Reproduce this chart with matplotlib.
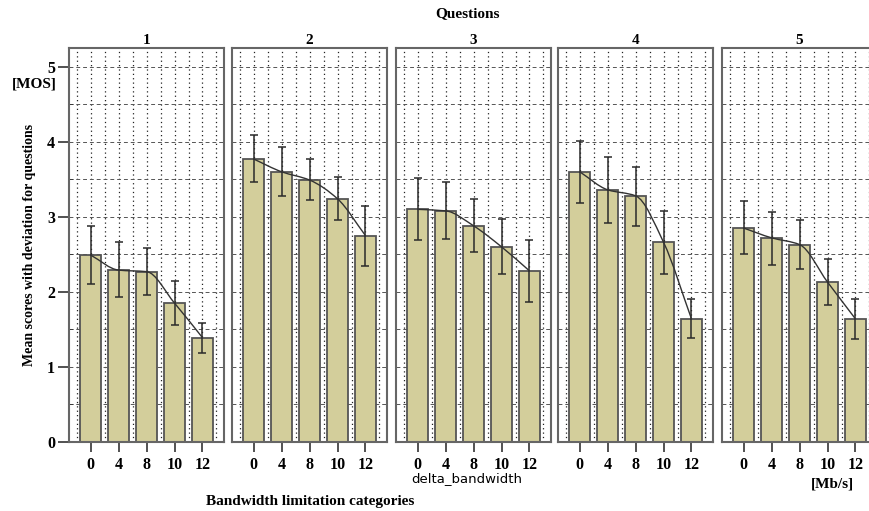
"""
Mean MOS scores per question for the bandwidth limitation categories
"""
import matplotlib
matplotlib.use('Agg')
import matplotlib.pyplot as plt
from matplotlib.path import Path
from matplotlib.patches import PathPatch
from matplotlib.ticker import MultipleLocator
import numpy as np

# data
questions = ['1', '2', '3', '4', '5']
bandwidth_labels = ['0', '4', '8', '10', '12']

q1_mean = [2.49, 2.29, 2.27, 1.85, 1.39]
q1_low = [2.11, 1.93, 1.96, 1.56, 1.19]
q1_high = [2.88, 2.67, 2.58, 2.15, 1.59]

q2_mean = [3.77, 3.60, 3.49, 3.24, 2.75]
q2_low = [3.46, 3.28, 3.22, 2.96, 2.35]
q2_high = [4.09, 3.93, 3.77, 3.53, 3.15]

q3_mean = [3.10, 3.08, 2.88, 2.60, 2.28]
q3_low = [2.69, 2.70, 2.53, 2.24, 1.86]
q3_high = [3.52, 3.46, 3.24, 2.97, 2.69]

q4_mean = [3.60, 3.36, 3.28, 2.66, 1.64]
q4_low = [3.19, 2.92, 2.88, 2.24, 1.38]
q4_high = [4.01, 3.80, 3.66, 3.08, 1.90]

q5_mean = [2.85, 2.72, 2.63, 2.13, 1.64]
q5_low = [2.50, 2.36, 2.31, 1.83, 1.37]
q5_high = [3.21, 3.07, 2.96, 2.44, 1.91]

means = [q1_mean, q2_mean, q3_mean, q4_mean, q5_mean]
lows = [q1_low, q2_low, q3_low, q4_low, q5_low]
highs = [q1_high, q2_high, q3_high, q4_high, q5_high]

BAR_COLOR = '#d3ce9b'
SERIF = 'Liberation Serif'

W, H = 869, 511
panel_left = [69, 232, 396, 558, 722]
panel_width = 155
panel_top, panel_bottom = 48, 442


def smooth_path(x, y):
    """Monotone cubic (Fritsch-Carlson) through the points, as bezier path"""
    x = np.asarray(x, float)
    y = np.asarray(y, float)
    h = np.diff(x)
    d = np.diff(y) / h
    m = np.zeros_like(y)
    m[0], m[-1] = d[0], d[-1]
    for i in range(1, len(y) - 1):
        if d[i - 1] * d[i] <= 0:
            m[i] = 0
        else:
            w1 = 2 * h[i] + h[i - 1]
            w2 = h[i] + 2 * h[i - 1]
            m[i] = (w1 + w2) / (w1 / d[i - 1] + w2 / d[i])
    verts = [(x[0], y[0])]
    codes = [Path.MOVETO]
    for i in range(len(h)):
        verts += [(x[i] + h[i] / 3, y[i] + m[i] * h[i] / 3),
                  (x[i + 1] - h[i] / 3, y[i + 1] - m[i + 1] * h[i] / 3),
                  (x[i + 1], y[i + 1])]
        codes += [Path.CURVE4] * 3
    return Path(verts, codes)


fig = plt.figure(figsize=(W / 100, H / 100), dpi=100)
xpos = np.arange(len(bandwidth_labels))

for k, q in enumerate(questions):
    ax = fig.add_axes([panel_left[k] / W, 1 - panel_bottom / H,
                       panel_width / W, (panel_bottom - panel_top) / H])
    ax.set_xlim(-0.78, 4.77)
    ax.set_ylim(0, 5.25)

    # grid
    for gx in np.arange(-0.5, 5.0, 0.5):
        ax.axvline(gx, color='#222222', lw=0.9, ls=(0, (1, 2.5)), zorder=0)
    for gy in np.arange(0.5, 5.5, 0.5):
        ax.axhline(gy, color='#555555', lw=0.7, ls=(0, (4, 3)), zorder=0)

    m = np.array(means[k])
    err = [m - np.array(lows[k]), np.array(highs[k]) - m]
    ax.bar(xpos, m, width=0.75, color=BAR_COLOR, edgecolor='#555555',
           linewidth=1.3, zorder=2)
    ax.errorbar(xpos, m, yerr=err, fmt='none', ecolor='#2a2a2a',
                elinewidth=1.1, capsize=3, capthick=1.1, zorder=3)
    ax.add_patch(PathPatch(smooth_path(xpos, m), facecolor='none',
                           edgecolor='#333333', lw=1.0, zorder=4))

    for s in ax.spines.values():
        s.set_color('#666666')
        s.set_linewidth(1.5)

    ax.set_xticks(xpos)
    ax.set_xticklabels(bandwidth_labels, fontfamily=SERIF,
                       fontweight='bold', fontsize=11.5)
    ax.tick_params(axis='x', length=7, width=1.2, color='#333333', pad=4)
    ax.set_title(q, fontfamily=SERIF, fontweight='bold', fontsize=11, pad=3)

    if k == 0:
        ax.yaxis.set_minor_locator(MultipleLocator(0.5))
        ax.set_yticks(range(6))
        ax.set_yticklabels([str(v) for v in range(6)], fontfamily=SERIF,
                           fontweight='bold', fontsize=11.5)
        ax.tick_params(axis='y', which='major', length=8, width=1.2,
                       color='#333333', pad=2)
        ax.tick_params(axis='y', which='minor', length=3, direction='in',
                       color='#333333')
    else:
        ax.set_yticks([])

fig.text(467 / W, 1 - 14 / H, 'Questions', ha='center', va='center',
         fontfamily=SERIF, fontweight='bold', fontsize=11)
fig.text(34 / W, 1 - 84 / H, '[MOS]', ha='center', va='center',
         fontfamily=SERIF, fontweight='bold', fontsize=11)
fig.text(30 / W, 1 - 245 / H, 'Mean scores with deviation for questions',
         ha='center', va='center', rotation=90, fontfamily=SERIF,
         fontweight='bold', fontsize=10)
fig.text(467 / W, 1 - 479 / H, 'delta_bandwidth', ha='center', va='center',
         fontfamily='DejaVu Sans', fontsize=9.5)
fig.text(310 / W, 1 - 501 / H, 'Bandwidth limitation categories',
         ha='center', va='center', fontfamily=SERIF, fontweight='bold',
         fontsize=11)
fig.text(832 / W, 1 - 484 / H, '[Mb/s]', ha='center', va='center',
         fontfamily=SERIF, fontweight='bold', fontsize=11)

fig.savefig('out.png', dpi=100)
plt.close(fig)
